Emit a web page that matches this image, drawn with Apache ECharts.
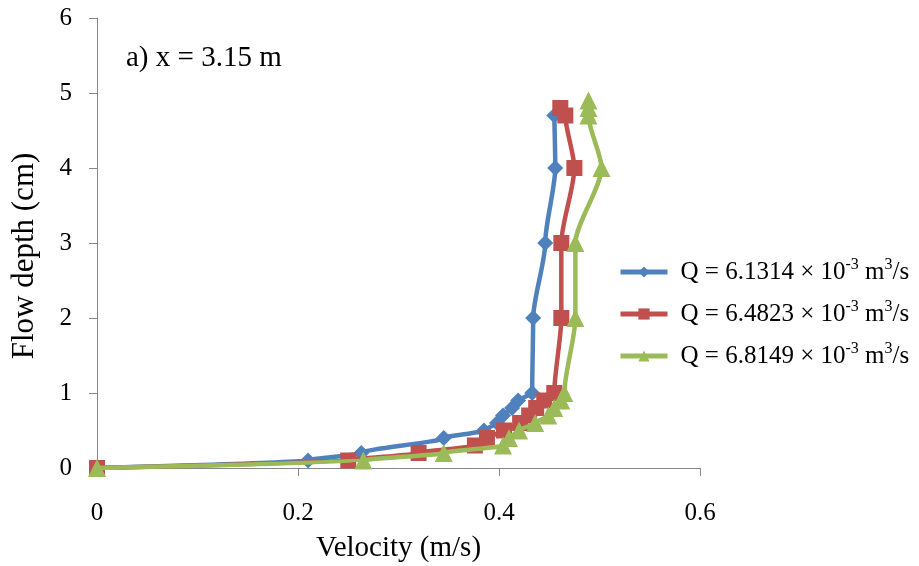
<!DOCTYPE html>
<html><head><meta charset="utf-8">
<script src="https://cdn.jsdelivr.net/npm/echarts@6/dist/echarts.min.js"></script>
<style>html,body{margin:0;padding:0;background:#fff}#c{width:919px;height:566px}</style>
</head><body><div id="c"></div>
<script>
const seriesNames = ["Q = 6.1314 × 10{sup|-3} m{sup|3}/s", "Q = 6.4823 × 10{sup|-3} m{sup|3}/s", "Q = 6.8149 × 10{sup|-3} m{sup|3}/s"];
const depth1 = [0, 0.1, 0.2, 0.4, 0.5, 0.6, 0.7, 0.8, 0.9, 1, 2, 3, 4, 4.7];
const vel1 = [0, 0.21, 0.263, 0.345, 0.385, 0.398, 0.404, 0.413, 0.419, 0.433, 0.434, 0.446, 0.456, 0.455];
const depth2 = [0, 0.1, 0.2, 0.3, 0.4, 0.5, 0.6, 0.7, 0.8, 0.9, 1, 2, 3, 4, 4.7, 4.8];
const vel2 = [0, 0.25, 0.32, 0.376, 0.388, 0.405, 0.421, 0.43, 0.437, 0.445, 0.455, 0.462, 0.462, 0.475, 0.466, 0.461];
const depth3 = [0, 0.1, 0.2, 0.3, 0.4, 0.5, 0.6, 0.7, 0.8, 0.9, 1, 2, 3, 4, 4.7, 4.8, 4.9];
const vel3 = [0, 0.265, 0.345, 0.404, 0.41, 0.42, 0.436, 0.449, 0.455, 0.462, 0.465, 0.476, 0.476, 0.502, 0.489, 0.489, 0.489];
const xTicks = [0, 0.2, 0.4, 0.6];
const yTicks = [0, 1, 2, 3, 4, 5, 6];

const colors = ['#4F81BD', '#C0504D', '#9BBB59'];
const symbols = ['diamond', 'rect', 'triangle'];
const symSizes = [16, 16, 18];
const font = '"Liberation Serif", "Times New Roman", serif';
const pairs = (v, d) => v.map((x, i) => [x, d[i]]);
const datas = [pairs(vel1, depth1), pairs(vel2, depth2), pairs(vel3, depth3)];

const chart = echarts.init(document.getElementById('c'));
chart.setOption({
  animation: false,
  backgroundColor: '#fff',
  grid: {left: 97, right: 219, top: 18, bottom: 98, containLabel: false, outerBoundsMode: 'none'},
  title: {text: 'a) x = 3.15 m', left: 121, top: 39,
    textStyle: {fontFamily: font, fontSize: 29, fontWeight: 'normal', color: '#000'}},
  legend: {
    orient: 'vertical', left: 613, top: 252, itemWidth: 47, itemHeight: 14, itemGap: 12,
    data: seriesNames,
    formatter: n => n,
    lineStyle: {width: 5},
    textStyle: {fontFamily: font, fontSize: 25, lineHeight: 30, color: '#000', padding: [0,0,0,8],
      rich: {sup: {fontFamily: font, fontSize: 16, lineHeight: 30, verticalAlign: 'top', padding: [0,0,10,0], color: '#000'}}}
  },
  xAxis: {
    type: 'value', min: 0, max: 0.6, interval: 0.2,
    name: 'Velocity (m/s)', nameLocation: 'middle', nameGap: 66,
    nameTextStyle: {fontFamily: font, fontSize: 29, color: '#000'},
    axisLine: {lineStyle: {color: '#868686', width: 1}},
    axisTick: {show: true, length: 8, lineStyle: {color: '#868686'}},
    axisLabel: {fontFamily: font, fontSize: 25, color: '#000', margin: 33,
      formatter: v => (xTicks.indexOf(+v.toFixed(1)) >= 0 ? String(+v.toFixed(1)) : '')},
    splitLine: {show: false}
  },
  yAxis: {
    type: 'value', min: 0, max: 6, interval: 1,
    name: 'Flow depth (cm)', nameLocation: 'middle', nameGap: 57, nameRotate: 90,
    nameTextStyle: {fontFamily: font, fontSize: 31, color: '#000', padding: [0, 26, 0, 0]},
    axisLine: {show: true, lineStyle: {color: '#868686', width: 1}},
    axisTick: {show: true, length: 8, lineStyle: {color: '#868686'}},
    axisLabel: {fontFamily: font, fontSize: 25, color: '#000', margin: 25,
      formatter: v => (yTicks.indexOf(v) >= 0 ? String(v) : '')},
    splitLine: {show: false}
  },
  series: datas.map((d, i) => ({
    name: seriesNames[i], type: 'line', data: d,
    smooth: 0.25, smoothMonotone: 'y',
    symbol: symbols[i], symbolSize: symSizes[i],
    lineStyle: {color: colors[i], width: 4.5},
    itemStyle: {color: colors[i]},
    z: 2 + i
  }))
});
</script></body></html>
